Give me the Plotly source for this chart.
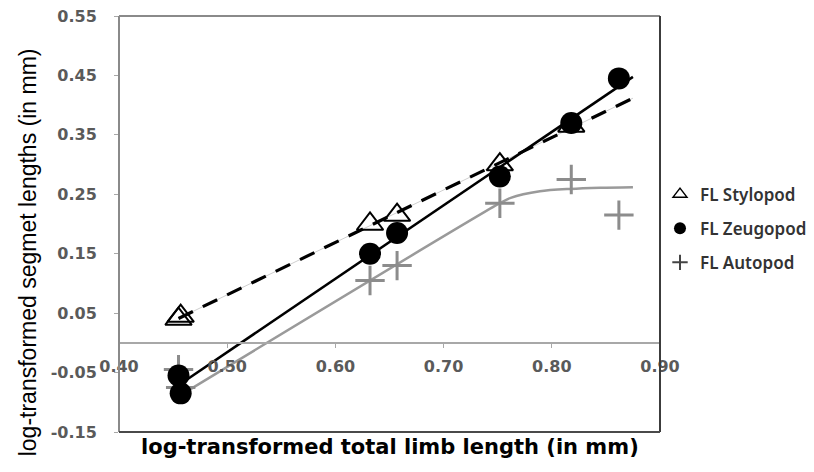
import numpy as np
import plotly.graph_objects as go

# ---- data ----
limb_x = [0.455, 0.457, 0.632, 0.657, 0.752, 0.818, 0.862]
stylopod_x = [0.455, 0.457, 0.632, 0.657, 0.752, 0.818]
stylopod_y = [0.040, 0.045, 0.200, 0.215, 0.300, 0.365]
zeugopod_y = [-0.055, -0.085, 0.150, 0.185, 0.280, 0.370, 0.445]
autopod_y = [-0.045, -0.075, 0.105, 0.130, 0.235, 0.275, 0.215]

# autopod trend curve
autopod_curve_x = [0.455, 0.752, 0.762, 0.789, 0.817, 0.845, 0.875]
autopod_curve_y = [-0.090, 0.235, 0.244, 0.255, 0.259, 0.261, 0.262]

x_ticks = [0.40, 0.50, 0.60, 0.70, 0.80, 0.90]
x_ticktext = ["0.40", "0.50", "0.60", "0.70", "0.80", "0.90"]
y_ticks = [-0.15, -0.05, 0.05, 0.15, 0.25, 0.35, 0.45, 0.55]
y_ticktext = ["-0.15", "-0.05", "0.05", "0.15", "0.25", "0.35", "0.45", "0.55"]
x_range = [0.40, 0.90]
y_range = [-0.15, 0.55]
forecast = 0.013

legend_names = ["FL Stylopod", "FL Zeugopod", "FL Autopod"]

# ---- linear trendlines computed from the data ----
trend_end = max(limb_x) + forecast

def fit_line(xs, ys, deg, n=50):
    c = np.polyfit(xs, ys, deg)
    xx = np.linspace(min(xs), trend_end, n)
    return xx, np.polyval(c, xx)

sx, sy = fit_line(stylopod_x, stylopod_y, 1)
zx, zy = fit_line(limb_x, zeugopod_y, 1)

GRAY = "#8c8c8c"
fig = go.Figure()

# trendlines
fig.add_trace(go.Scatter(x=sx, y=sy, mode="lines", line=dict(color="#cfcfcf", width=1),
                         showlegend=False, hoverinfo="skip"))
fig.add_trace(go.Scatter(x=sx, y=sy, mode="lines", line=dict(color="black", width=3.2, dash="16px,11px"),
                         showlegend=False, hoverinfo="skip"))
fig.add_trace(go.Scatter(x=autopod_curve_x, y=autopod_curve_y, mode="lines",
                         line=dict(color="#9a9a9a", width=2.5, shape="spline", smoothing=0.8),
                         showlegend=False, hoverinfo="skip"))
fig.add_trace(go.Scatter(x=zx, y=zy, mode="lines", line=dict(color="black", width=2.5),
                         showlegend=False, hoverinfo="skip"))

# data markers
fig.add_trace(go.Scatter(x=limb_x, y=autopod_y, mode="markers", showlegend=False,
                         marker=dict(symbol="cross-thin", size=21, line=dict(color=GRAY, width=3))))
fig.add_trace(go.Scatter(x=limb_x, y=zeugopod_y, mode="markers", showlegend=False,
                         marker=dict(symbol="circle", size=22, color="black")))
fig.add_trace(go.Scatter(x=stylopod_x, y=stylopod_y, mode="markers", showlegend=False,
                         marker=dict(symbol="triangle-up-open", size=23, color="black",
                                     line=dict(width=2))))

# legend-only entries
fig.add_trace(go.Scatter(x=[None], y=[None], mode="markers", name=legend_names[0], legendgroup="a",
                         marker=dict(symbol="triangle-up-open", size=12, color="black", line=dict(width=1.5))))
fig.add_trace(go.Scatter(x=[None], y=[None], mode="markers", name=legend_names[1], legendgroup="b",
                         marker=dict(symbol="circle", size=12, color="black")))
fig.add_trace(go.Scatter(x=[None], y=[None], mode="markers", name=legend_names[2], legendgroup="c",
                         marker=dict(symbol="cross-thin", size=11, line=dict(color="#444", width=2))))

zero_pos = (0 - y_range[0]) / (y_range[1] - y_range[0])

tick_font = dict(family="DejaVu Sans", size=16, color="#5a5a5a", weight="bold")

frame = [
    dict(x0=0, x1=1, y0=1, y1=1, color="#8a8a8a"),   # top
    dict(x0=0, x1=0, y0=0, y1=1, color="#8a8a8a"),   # left
    dict(x0=1, x1=1, y0=0, y1=1, color="#3c3c3c"),   # right
    dict(x0=0, x1=1, y0=0, y1=0, color="#4a4a4a"),   # bottom
]
shapes = [dict(type="line", xref="x domain", yref="y domain", x0=f["x0"], x1=f["x1"],
               y0=f["y0"], y1=f["y1"], line=dict(color=f["color"], width=2), layer="above")
          for f in frame]

fig.update_layout(
    width=814, height=472,
    margin=dict(l=111, r=162, t=8, b=48, autoexpand=False),
    paper_bgcolor="white", plot_bgcolor="white",
    showlegend=True,
    legend=dict(x=1.0, y=0.614, xanchor="left", yanchor="top",
                traceorder="grouped", tracegroupgap=9, itemwidth=30,
                font=dict(family="Noto Sans", size=17, color="#333333", weight=600),
                bgcolor="rgba(0,0,0,0)"),
    xaxis=dict(range=x_range, tickvals=x_ticks, ticktext=x_ticktext,
               anchor="free", position=zero_pos, automargin=False, ticklabeloverflow="allow",
               showgrid=False, zeroline=False, showline=True, linecolor="#a8a8a8", linewidth=2,
               ticks="outside", ticklen=4, tickcolor="#a8a8a8", tickwidth=1,
               ticklabelstandoff=5, tickfont=tick_font),
    yaxis=dict(range=y_range, tickvals=y_ticks, ticktext=y_ticktext, automargin=False,
               ticklabeloverflow="allow",
               showgrid=False, zeroline=False, showline=False,
               ticks="outside", ticklen=4, tickcolor="#a8a8a8", tickwidth=1,
               ticklabelstandoff=14, tickfont=tick_font),
    shapes=shapes,
    annotations=[
        dict(text="log-transformed total limb length (in mm)", xref="paper", yref="paper",
             x=0.5, y=0, xanchor="center", yanchor="middle", yshift=-15, showarrow=False,
             font=dict(family="DejaVu Sans", size=21, color="black", weight="bold")),
        dict(text="log-transformed segmet lengths (in mm)", xref="paper", yref="paper",
             x=0, y=0.432, xanchor="center", yanchor="middle", xshift=-91,
             textangle=-90, showarrow=False,
             font=dict(family="Liberation Sans, Arial", size=23, color="black")),
    ],
)

fig.write_html("out.html")
